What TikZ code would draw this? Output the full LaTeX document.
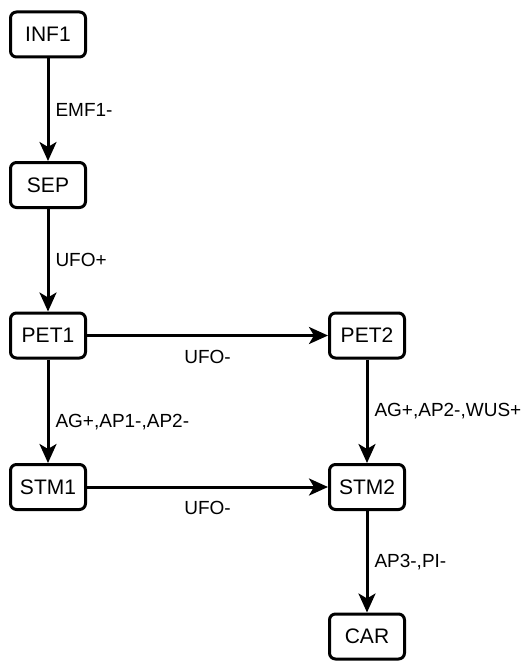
\documentclass[tikz,border=0pt]{standalone}
\usepackage{fontspec}
\setmainfont{Liberation Sans}
\usepackage{tikz}
\usetikzlibrary{arrows.meta, positioning}

\begin{document}
\begin{tikzpicture}[
  x=1pt, y=-1pt,
  state/.style={draw, line width=3pt, rounded corners=6pt, minimum width=75pt,
    minimum height=45pt, inner sep=0pt, font=\fontsize{21}{24}\selectfont},
  arr/.style={-{Stealth[length=19pt, width=17pt, inset=5pt]}, line width=3pt},
  lbl/.style={font=\fontsize{19}{22}\selectfont, inner sep=2pt}
]
  \useasboundingbox (0,0) rectangle (520,661);
  \node[state] (inf1) at (48, 34.5) {INF1};
  \node[state] (sep)  at (48, 185) {SEP};
  \node[state] (pet1) at (48, 335.5) {PET1};
  \node[state] (pet2) at (367, 335.5) {PET2};
  \node[state] (stm1) at (48, 487) {STM1};
  \node[state] (stm2) at (367, 487) {STM2};
  \node[state] (car)  at (367, 636.5) {CAR};
  \draw[arr] (inf1) -- node[lbl, right=4pt] {EMF1-} (sep);
  \draw[arr] (sep) -- node[lbl, right=4pt] {UFO+} (pet1);
  \draw[arr] (pet1) -- node[lbl, below=11pt] {UFO-} (pet2);
  \draw[arr] (pet1) -- node[lbl, right=4pt, pos=0.6] {AG+,AP1-,AP2-} (stm1);
  \draw[arr] (pet2) -- node[lbl, right=4pt] {AG+,AP2-,WUS+} (stm2);
  \draw[arr] (stm1) -- node[lbl, below=11pt] {UFO-} (stm2);
  \draw[arr] (stm2) -- node[lbl, right=4pt] {AP3-,PI-} (car);
\end{tikzpicture}
\end{document}
